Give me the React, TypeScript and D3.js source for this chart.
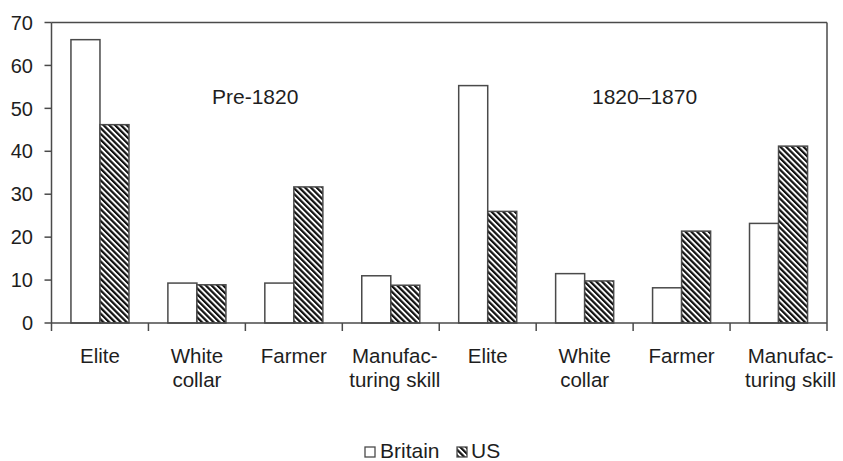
import React from "react";
import * as d3 from "d3";

const categories = [
  "Elite",
  "White collar",
  "Farmer",
  "Manufacturing skill",
  "Elite ",
  "White collar ",
  "Farmer ",
  "Manufacturing skill ",
];
const categoryLines = [
  ["Elite"],
  ["White", "collar"],
  ["Farmer"],
  ["Manufac-", "turing skill"],
  ["Elite"],
  ["White", "collar"],
  ["Farmer"],
  ["Manufac-", "turing skill"],
];
const seriesNames = ["Britain", "US"];
const britain = [66, 9.3, 9.3, 11, 55.3, 11.5, 8.2, 23.2];
const us = [46.2, 8.9, 31.7, 8.8, 26, 9.8, 21.4, 41.2];
const yTicks = [0, 10, 20, 30, 40, 50, 60, 70];
const periodLabels = ["Pre-1820", "1820–1870"];

const W = 843;
const H = 461;
const M = { left: 51.5, right: 827, top: 22.5, bottom: 323 };
const FONT = "'Liberation Sans', Arial, Helvetica, sans-serif";
const TEXT = "#1e1e1e";
const LINE = "#4a4a4a";

export default function App() {
  const x = d3.scaleBand<string>().domain(categories).range([M.left, M.right]).padding(0);
  const x1 = d3
    .scaleBand<string>()
    .domain(seriesNames)
    .range([0, x.bandwidth()])
    .paddingInner(0)
    .paddingOuter(0.67);
  const y = d3.scaleLinear().domain([0, 70]).range([M.bottom, M.top]);

  const values: Record<string, number[]> = { Britain: britain, US: us };
  const boundaries = categories.map((c) => x(c) as number).concat([M.right]);

  return (
    <svg
      width={W}
      height={H}
      style={{ position: "absolute", left: 0, top: 0, background: "#fff" }}
      fontFamily={FONT}
    >
      <defs>
        <pattern
          id="hatch"
          patternUnits="userSpaceOnUse"
          width={4.1}
          height={4.1}
          patternTransform="rotate(-45)"
        >
          <rect width={4.1} height={4.1} fill="#fff" />
          <rect x={0} y={0} width={2.2} height={4.1} fill="#111" />
        </pattern>
      </defs>

      {/* plot frame top and right */}
      <line x1={M.left} x2={M.right} y1={M.top} y2={M.top} stroke={LINE} strokeWidth={1.5} />
      <line x1={M.right} x2={M.right} y1={M.top} y2={M.bottom} stroke={LINE} strokeWidth={1.5} />

      {/* bars */}
      {categories.map((c, i) =>
        seriesNames.map((s) => {
          const v = values[s][i];
          const bx = (x(c) as number) + (x1(s) as number);
          return (
            <rect
              key={c + s}
              x={bx}
              y={y(v)}
              width={x1.bandwidth()}
              height={y(0) - y(v)}
              fill={s === "US" ? "url(#hatch)" : "#fff"}
              stroke={LINE}
              strokeWidth={1.5}
            />
          );
        })
      )}

      {/* y axis */}
      <line x1={M.left} x2={M.left} y1={M.top} y2={M.bottom} stroke={LINE} strokeWidth={1.5} />
      {yTicks.map((t) => (
        <g key={t}>
          <line x1={M.left - 7} x2={M.left} y1={y(t)} y2={y(t)} stroke={LINE} strokeWidth={1.5} />
          <text x={33} y={y(t)} dy="0.36em" textAnchor="end" fontSize={20} fill={TEXT}>
            {t}
          </text>
        </g>
      ))}

      {/* x axis */}
      <line x1={M.left} x2={M.right} y1={M.bottom} y2={M.bottom} stroke={LINE} strokeWidth={1.5} />
      {boundaries.map((bx, i) => (
        <line key={i} x1={bx} x2={bx} y1={M.bottom} y2={M.bottom + 8} stroke={LINE} strokeWidth={1.5} />
      ))}
      {categories.map((c, i) => {
        const cx = (x(c) as number) + x.bandwidth() / 2 + (i === 7 ? 12 : i === 3 ? 4 : 0);
        return (
          <text key={c} x={cx} y={363} textAnchor="middle" fontSize={20.5} fill={TEXT}>
            {categoryLines[i].map((ln, j) => (
              <tspan key={j} x={cx} dy={j === 0 ? 0 : 24}>
                {ln}
              </tspan>
            ))}
          </text>
        );
      })}

      {/* period labels */}
      <text x={212} y={104} fontSize={21} fill={TEXT}>
        {periodLabels[0]}
      </text>
      <text x={592} y={104} fontSize={21} fill={TEXT}>
        {periodLabels[1]}
      </text>

      {/* legend */}
      <rect x={365} y={447} width={10} height={10} fill="#fff" stroke={LINE} strokeWidth={1.3} />
      <text x={380} y={457.5} fontSize={21} fill={TEXT}>
        {seriesNames[0]}
      </text>
      <rect x={457} y={447} width={10} height={10} fill="url(#hatch)" stroke={LINE} strokeWidth={1.3} />
      <text x={471} y={457.5} fontSize={21} fill={TEXT}>
        {seriesNames[1]}
      </text>
    </svg>
  );
}
